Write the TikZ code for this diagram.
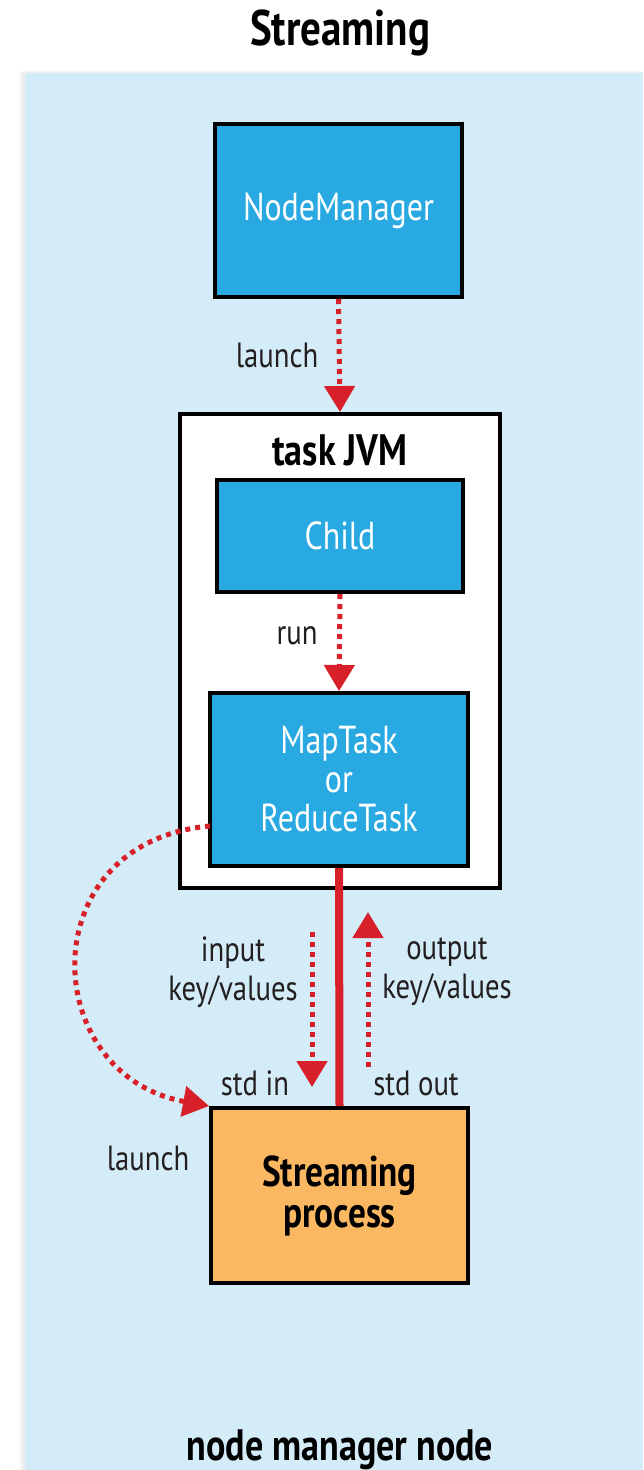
\documentclass[tikz,border=0pt]{standalone}
\usepackage{fontspec}
\setmainfont{PT Sans}[FakeStretch=0.82]
\usetikzlibrary{arrows.meta}
\definecolor{bgblue}{HTML}{D4ECF8}
\definecolor{boxblue}{HTML}{29A9E1}
\definecolor{procorange}{HTML}{FBB862}
\definecolor{arrred}{HTML}{D7202A}
\definecolor{txtgray}{HTML}{231F20}
\tikzset{
  bluebox/.style={draw=black, line width=4pt, fill=boxblue, text=white, align=center,
    font=\fontsize{39}{39}\selectfont, inner sep=0pt},
  jvmbox/.style={draw=black, line width=4pt, fill=white, inner sep=0pt},
  procbox/.style={draw=black, line width=4pt, fill=procorange, text=black, align=center,
    font=\bfseries\fontsize{43}{41}\selectfont, inner sep=0pt},
  lbl/.style={text=txtgray, align=center, font=\fontsize{35}{39}\selectfont, inner sep=0pt},
  blbl/.style={text=black, align=center, font=\bfseries\fontsize{44}{46}\selectfont, inner sep=0pt},
  dotarrow/.style={draw=arrred, line width=5pt, dash pattern=on 5pt off 5pt,
    -{Triangle[length=26pt,width=30pt]}},
  thickline/.style={draw=arrred, line width=8pt},
}
\begin{document}
\begin{tikzpicture}[x=1pt,y=-1pt]
\useasboundingbox (0,0) rectangle (643,1470);
% shadow and background
\fill[black,opacity=0.03] (19,71) rectangle (643,1470);
\fill[black,opacity=0.04] (22,72) rectangle (643,1470);
\fill[bgblue] (25,73) rectangle (643,1470);
\node[blbl, font=\bfseries\fontsize{50}{52}\selectfont] (title) at (340,33) {Streaming};
\node[blbl] (nmn) at (340,1450) {node manager node};

\node[bluebox, minimum width=247pt, minimum height=173pt] (nm) at (338.5,210.5) {NodeManager};
\node[jvmbox, minimum width=320pt, minimum height=474pt] (jvm) at (340,651) {};
\node[blbl] (jvmlbl) at (340,450) {task JVM};
\node[bluebox, minimum width=246pt, minimum height=112pt] (child) at (340,536) {Child};
\node[bluebox, minimum width=258pt, minimum height=173pt] (task) at (339,779.5) {MapTask\\or\\ReduceTask};
\node[procbox, minimum width=257pt, minimum height=175pt] (proc) at (339.5,1195.5) {Streaming\\process};

% launch of JVM
\draw[dotarrow] (nm.south) -- (jvm.north);
\node[lbl] (l1) at (277,355) {launch};
% run
\draw[dotarrow] (child.south) -- (task.north);
\node[lbl] (l2) at (297,636) {run};
% thick pipe
\draw[thickline] (task.south) -- (proc.north);
% input/output
\coordinate (inA) at (312,932);
\coordinate (inB) at (312,1087);
\coordinate (outA) at (368,1067);
\coordinate (outB) at (368,912);
\draw[dotarrow] (inA) -- (inB);
\draw[dotarrow] (outA) -- (outB);
\node[lbl] (l3) at (233,972) {input\\key/values};
\node[lbl] (l4) at (447,972) {output\\key/values};
\node[lbl] (l5) at (255,1083) {std in};
\node[lbl] (l6) at (416,1083) {std out};
% curved launch
\coordinate (cs) at (210,826);
\draw[dotarrow] (cs) .. controls (30,842) and (38,1075) .. (proc.north west);
\node[lbl] (l7) at (148,1158) {launch};
\end{tikzpicture}
\end{document}
